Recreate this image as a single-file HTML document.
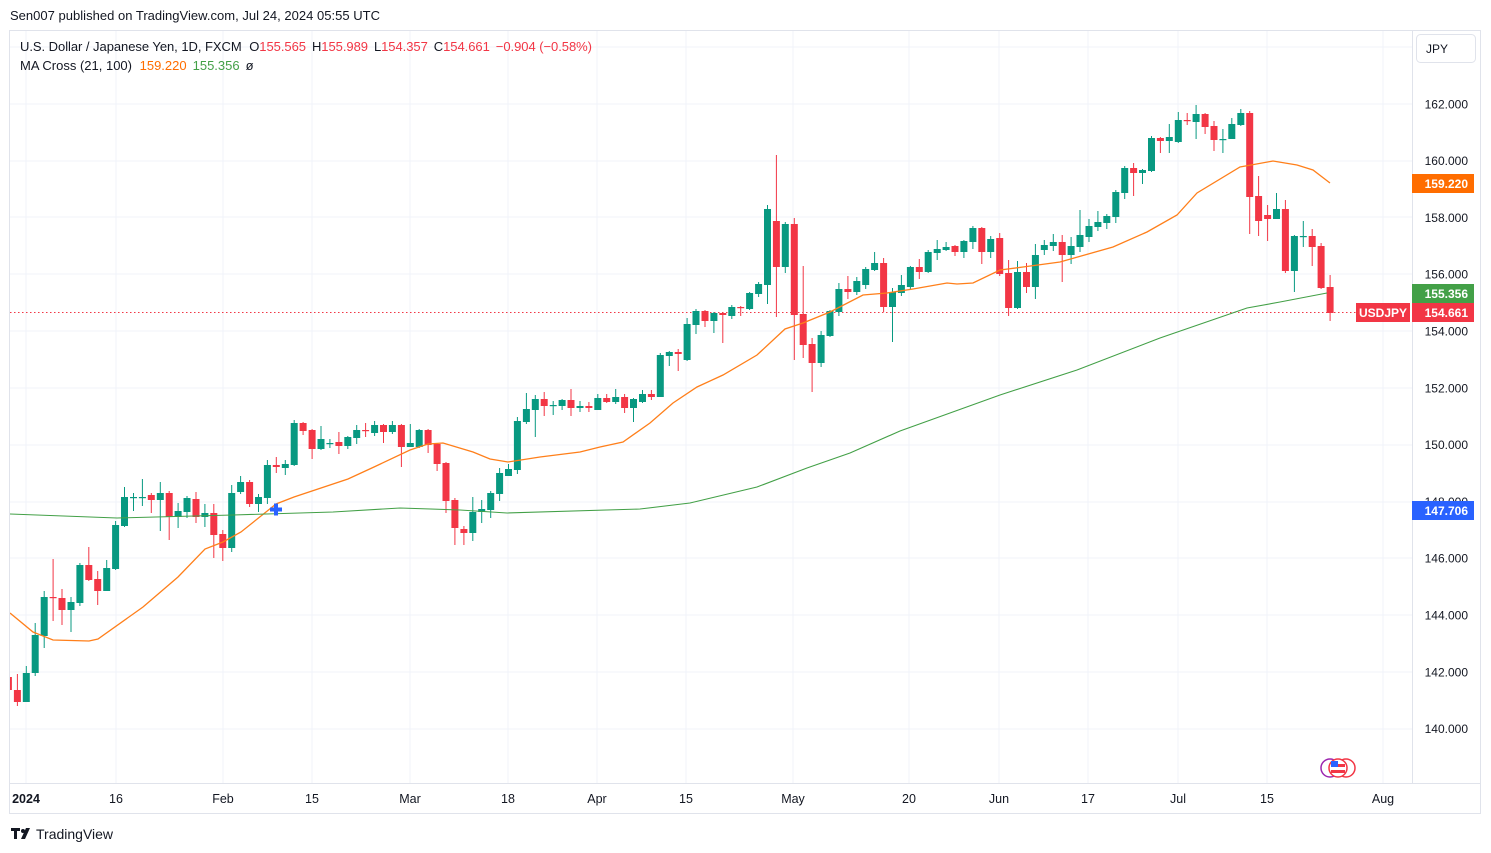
<!DOCTYPE html>
<html><head><meta charset="utf-8"><style>
body{margin:0;background:#fff;width:1491px;height:853px;overflow:hidden;font-family:"Liberation Sans",sans-serif}
svg{position:absolute;left:0;top:0}
</style></head><body>
<svg id="s" width="1491" height="853" xmlns="http://www.w3.org/2000/svg" font-family="Liberation Sans, sans-serif"></svg>
<script>
const C=[
[-2,'r',677,690,672,692],[-1,'r',690,702,674,706],[0,'g',673,702,666,702],[1,'g',635,673,623,676],[2,'g',597,636,591,648],
[3,'r',597,597,559,621],[4,'r',598,610,589,625],[5,'g',602,610,597,632],[6,'g',565,603,563,606],[7,'r',565,580,547,581],
[8,'r',579,591,571,605],[9,'g',568,591,560,591],[10,'g',525,569,521,570],[11,'g',497,526,487,527],[12,'g',497,497,493,511],
[13,'g',497,497,479,506],[14,'r',495,500,493,513],[15,'g',493,500,482,531],[16,'r',493,517,491,540],[17,'g',511,517,503,528],
[18,'g',498,512,496,518],[19,'r',499,517,492,523],[20,'g',513,517,504,527],[21,'r',513,535,504,558],[22,'r',534,548,530,561],
[23,'g',493,548,485,552],[24,'g',482,492,476,494],[25,'r',482,504,480,507],[26,'g',497,504,494,512],[27,'g',465,498,460,504],
[28,'r',465,467,457,473],[29,'g',464,468,460,475],[30,'g',423,465,420,466],[31,'r',423,431,422,435],[32,'r',430,449,429,459],
[33,'g',439,449,426,450],[34,'g',443,443,439,448],[35,'r',442,446,432,454],[36,'g',437,446,436,449],[37,'g',430,438,425,444],
[38,'r',430,430,423,437],[39,'g',425,433,421,436],[40,'r',425,432,424,443],[41,'g',425,432,421,434],[42,'r',425,447,424,467],
[43,'g',443,447,424,446],[44,'g',430,447,429,448],[45,'r',430,445,429,453],[46,'r',444,464,443,471],[47,'r',463,501,462,513],
[48,'r',500,528,498,545],[49,'r',529,533,526,545],[50,'g',512,533,497,541],[51,'g',509,512,500,523],[52,'g',493,510,491,518],
[53,'g',473,494,468,501],[54,'g',469,476,464,474],[55,'g',421,470,417,474],[56,'g',409,422,393,424],[57,'g',399,410,395,437],
[58,'r',399,406,392,416],[59,'g',405,405,401,415],[60,'g',400,406,399,410],[61,'r',400,408,389,416],[62,'g',406,408,401,412],
[63,'r',406,408,402,412],[64,'g',398,410,394,410],[65,'r',398,402,394,403],[66,'g',397,402,389,404],[67,'r',397,408,394,413],
[68,'g',399,408,398,422],[69,'g',394,402,390,403],[70,'r',394,397,390,400],[71,'g',355,397,353,397],[72,'g',352,356,351,366],
[73,'r',352,354,349,371],[74,'g',324,360,318,361],[75,'g',311,325,309,334],[76,'r',311,321,310,327],[77,'g',313,321,312,333],
[78,'r',313,315,312,343],[79,'g',307,316,305,319],[80,'r',307,307,306,316],[81,'g',293,309,292,310],[82,'g',284,294,282,297],
[83,'g',209,285,205,304],[84,'r',221,267,155,317],[85,'g',224,267,222,273],[86,'r',224,315,218,360],[87,'r',314,345,266,358],
[88,'r',344,363,338,392],[89,'g',335,363,331,367],[90,'g',311,336,310,337],[91,'g',289,312,283,316],[92,'r',289,292,276,299],
[93,'g',281,292,277,295],[94,'g',269,285,267,289],[95,'g',263,270,252,271],[96,'r',263,307,258,312],[97,'g',292,307,288,342],
[98,'g',285,293,275,296],[99,'g',267,287,266,289],[100,'r',267,272,259,279],[101,'g',252,272,250,273],[102,'g',249,253,240,260],
[103,'g',247,250,242,251],[104,'r',246,252,245,256],[105,'g',241,252,240,258],[106,'g',228,242,226,249],[107,'r',228,252,227,264],
[108,'g',239,252,236,258],[109,'r',238,274,233,276],[110,'r',273,308,260,316],[111,'g',272,308,261,309],[112,'r',272,287,263,293],
[113,'g',255,287,244,299],[114,'g',245,250,240,255],[115,'g',242,246,234,251],[116,'r',242,255,235,282],[117,'g',246,255,237,264],
[118,'g',235,247,210,252],[119,'g',226,237,219,242],[120,'g',222,227,211,231],[121,'g',216,223,214,229],[122,'g',192,217,190,223],
[123,'g',168,193,166,199],[124,'r',168,173,163,196],[125,'g',170,173,169,184],[126,'g',138,171,136,172],[127,'r',138,141,137,153],
[128,'g',137,141,124,153],[129,'g',120,142,112,143],[130,'r',120,120,113,125],[131,'g',114,122,105,139],[132,'r',114,127,113,134],
[133,'r',126,140,121,151],[134,'g',139,139,129,153],[135,'g',124,139,118,139],[136,'g',113,125,109,126],[137,'r',113,197,111,234],
[138,'r',196,221,176,236],[139,'r',215,219,205,241],[140,'g',209,219,193,219],[141,'r',209,271,200,273],[142,'g',236,271,235,292],
[143,'g',236,236,221,247],[144,'r',236,247,229,266],[145,'r',246,288,243,289],[146,'r',287,313,275,321]];
const OR=[[10,613],[33,632],[53,640],[89,641],[98,639],[143,607],[178,577],[205,549],[223,542],[241,532],[276,504],[294,497],[312,491],[348,479],[374,467],[410,450],[428,444],[443,443],[473,452],[490,459],[508,462],[540,457],[580,452],[600,447],[623,442],[650,423],[673,403],[697,387],[723,375],[757,355],[785,329],[803,323],[830,312],[863,295],[887,293],[913,289],[947,283],[957,284],[973,283],[1000,270],[1023,267],[1060,262],[1113,247],[1147,232],[1177,215],[1197,193],[1240,167],[1273,161],[1297,165],[1313,170],[1330,183]];
const GR=[[10,514],[117,518],[233,515],[333,512],[400,508],[460,510],[507,513],[640,509],[690,503],[757,487],[807,468],[850,453],[900,431],[950,413],[1000,395],[1077,370],[1160,338],[1247,308],[1280,302],[1327,293]];
let h='<defs><clipPath id="cp"><rect x="10" y="31" width="1402" height="752"/></clipPath></defs>';
h+='<rect x="9.5" y="30.5" width="1471" height="783" fill="#fff" stroke="#e0e3eb"/>';
[47,104,161,217,274,331,388,445,502,558,615,672,729].forEach(y=>h+=`<line x1="10" x2="1412" y1="${y}" y2="${y}" stroke="#f0f3fa"/>`);
[26,116,223,312,410,508,597,686,793,909,999,1088,1178,1267,1383].forEach(x=>h+=`<line x1="${x}" x2="${x}" y1="31" y2="783" stroke="#f0f3fa"/>`);
h+='<line x1="10" x2="1480" y1="783.5" y2="783.5" stroke="#e0e3eb"/><line x1="1412.5" x2="1412.5" y1="31" y2="783" stroke="#e0e3eb"/>';
const P=['164.000','162.000','160.000','158.000','156.000','154.000','152.000','150.000','148.000','146.000','144.000','142.000','140.000'];
P.forEach((p,k)=>{if(k>0)h+=`<text x="1468" y="${47+k*56.8+4.5}" font-size="12" fill="#131722" text-anchor="end">${p}</text>`});
h+='<line x1="10" x2="1356" y1="312.5" y2="312.5" stroke="#f23645" stroke-dasharray="1.5,2.5"/>';
h+='<g clip-path="url(#cp)">';
C.forEach(c=>{const x=26.3+c[0]*8.93;const col=c[1]=='g'?'#089981':'#f23645';
h+=`<line x1="${x.toFixed(1)}" x2="${x.toFixed(1)}" y1="${c[4]}" y2="${c[5]}" stroke="${col}" stroke-width="1"/>`;
const hh=Math.max(c[3]-c[2],1.2);h+=`<rect x="${(x-3.5).toFixed(1)}" y="${c[2]}" width="7" height="${hh}" fill="${col}"/>`;});
h+=`<polyline points="${OR.map(p=>p.join(',')).join(' ')}" fill="none" stroke="#ff7f1a" stroke-width="1.3"/>`;
h+=`<polyline points="${GR.map(p=>p.join(',')).join(' ')}" fill="none" stroke="#43a047" stroke-width="1.1"/>`;
h+='</g>';
h+='<rect x="270" y="507.5" width="12" height="4" fill="#2962ff"/><rect x="274" y="503.5" width="4" height="12" fill="#2962ff"/>';
h+='<rect x="1412" y="174" width="62" height="19" fill="#ff6d00"/><text x="1468" y="188" font-size="12" font-weight="bold" fill="#fff" text-anchor="end">159.220</text>';
h+='<rect x="1412" y="284" width="62" height="19" fill="#43a047"/><text x="1468" y="298" font-size="12" font-weight="bold" fill="#fff" text-anchor="end">155.356</text>';
h+='<rect x="1412" y="303" width="62" height="19" fill="#f23645"/><text x="1468" y="317" font-size="12" font-weight="bold" fill="#fff" text-anchor="end">154.661</text>';
h+='<rect x="1356" y="303" width="54" height="19" fill="#f23645"/><text x="1383" y="317" font-size="12" font-weight="bold" fill="#fff" text-anchor="middle">USDJPY</text>';
h+='<rect x="1412" y="501" width="62" height="19" fill="#2962ff"/><text x="1468" y="515" font-size="12" font-weight="bold" fill="#fff" text-anchor="end">147.706</text>';
h+='<rect x="1416.5" y="34.5" width="59" height="28" rx="4" fill="#fff" stroke="#e0e3eb"/><text x="1426" y="53" font-size="12" fill="#131722">JPY</text>';
h+='<circle cx="1330" cy="768" r="9" fill="#fff" stroke="#9c27b0" stroke-width="1.5"/><circle cx="1346" cy="768" r="9" fill="#fff" stroke="#f23645" stroke-width="1.5"/><circle cx="1338" cy="768" r="9" fill="#fff" stroke="#f23645" stroke-width="1.5"/><rect x="1331" y="764" width="14" height="3" fill="#f23645"/><rect x="1331" y="770" width="14" height="3" fill="#f23645"/><rect x="1331" y="761" width="7" height="6" fill="#2962ff"/>';
[['2024',26,'bold'],['16',116],['Feb',223],['15',312],['Mar',410],['18',508],['Apr',597],['15',686],['May',793],['20',909],['Jun',999],['17',1088],['Jul',1178],['15',1267],['Aug',1383]].forEach(t=>{
h+=`<text x="${t[1]}" y="803" font-size="12.5" fill="#131722" text-anchor="middle"${t[2]?' font-weight="bold"':''}>${t[0]}</text>`});
h+='<text x="10" y="20" font-size="13" fill="#131722" textLength="370">Sen007 published on TradingView.com, Jul 24, 2024 05:55 UTC</text>';
h+='<text x="20" y="51" font-size="13" fill="#131722" textLength="572" lengthAdjust="spacing">U.S. Dollar / Japanese Yen, 1D, FXCM <tspan dx="4">O</tspan><tspan fill="#f23645">155.565</tspan><tspan dx="6">H</tspan><tspan fill="#f23645">155.989</tspan><tspan dx="6">L</tspan><tspan fill="#f23645">154.357</tspan><tspan dx="6">C</tspan><tspan fill="#f23645">154.661</tspan><tspan dx="6" fill="#f23645">−0.904 (−0.58%)</tspan></text>';
h+='<text x="20" y="70" font-size="13" fill="#131722">MA Cross (21, 100) <tspan dx="4" fill="#ff6d00">159.220</tspan><tspan dx="6" fill="#43a047">155.356</tspan><tspan dx="6">ø</tspan></text>';
h+='<rect x="11" y="828" width="9" height="3" fill="#131722"/><rect x="14" y="828" width="3" height="11" fill="#131722"/><circle cx="23" cy="831" r="2" fill="#131722"/><polygon points="26,828 30,828 25,839 21,839" fill="#131722"/>';
h+='<text x="36" y="839" font-size="14" fill="#131722">TradingView</text>';
document.getElementById('s').innerHTML=h;
</script>
</body></html>
